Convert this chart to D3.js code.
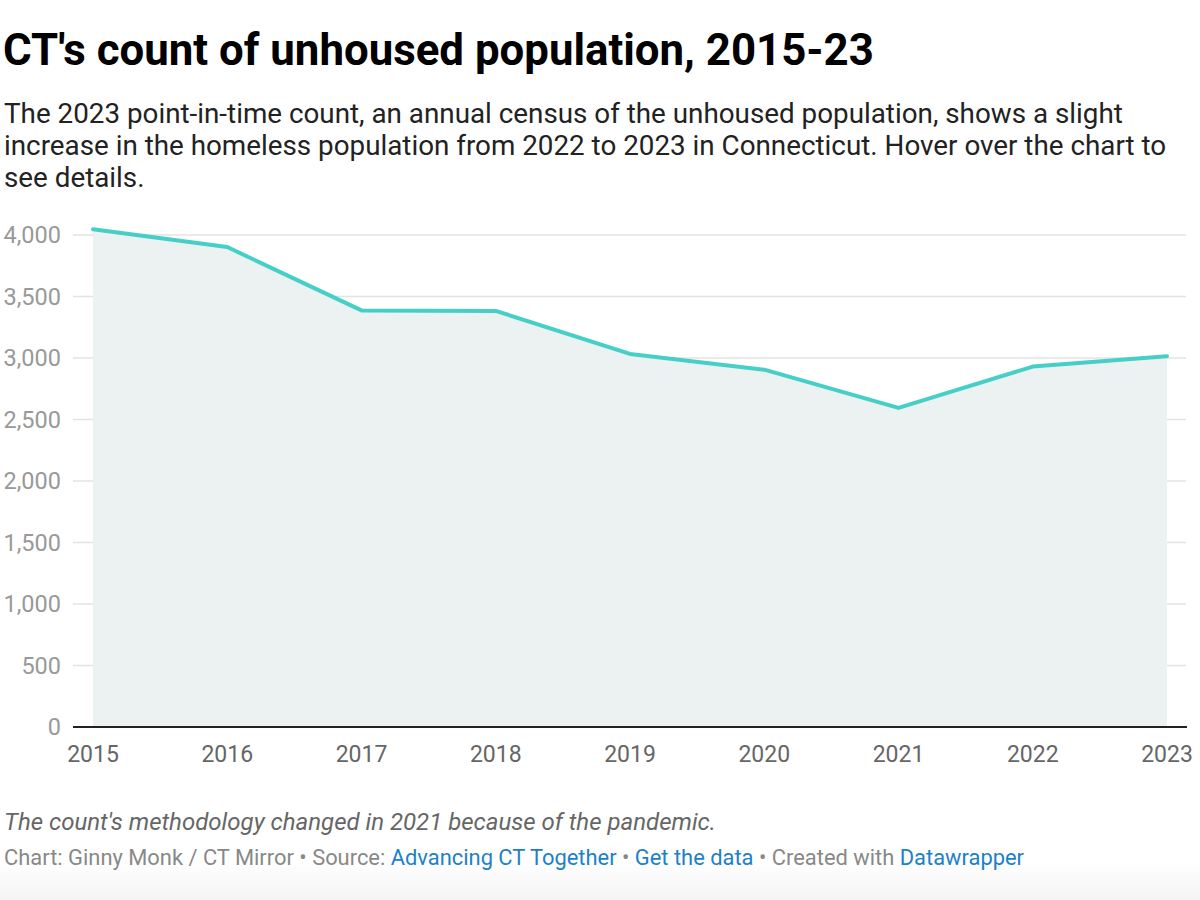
<!DOCTYPE html>
<html>
<head>
<meta charset="utf-8">
<script src="https://cdn.jsdelivr.net/npm/d3@7"></script>
<style>
  body { margin: 0; background: #fff; font-family: Roboto, "Noto Sans", sans-serif; }
  #chart { width: 1200px; height: 900px; background: linear-gradient(#fff 860px, #f4f4f4 900px); }
  .link { fill: #1d81c8; }
</style>
</head>
<body>
<div id="chart"></div>
<script>
// data
const years = [2015, 2016, 2017, 2018, 2019, 2020, 2021, 2022, 2023]
const counts = [4047, 3902, 3387, 3383, 3033, 2905, 2594, 2930, 3015]
const yTicks = [0, 500, 1000, 1500, 2000, 2500, 3000, 3500, 4000]

const title = "CT's count of unhoused population, 2015-23"
const subtitle = [
  'The 2023 point-in-time count, an annual census of the unhoused population, shows a slight',
  'increase in the homeless population from 2022 to 2023 in Connecticut. Hover over the chart to',
  'see details.'
]
const note = "The count's methodology changed in 2021 because of the pandemic."

const W = 1200, H = 900
const svg = d3.select('#chart').append('svg').attr('width', W).attr('height', H)

svg.append('text').attr('x', 3).attr('y', 65)
  .attr('font-size', 43.8).attr('font-weight', 700).attr('fill', '#000')
  .text(title)

svg.append('g').selectAll('text').data(subtitle).join('text')
  .attr('x', 4).attr('y', (d, i) => 123 + i * 32)
  .attr('font-size', 27.8).attr('fill', '#222')
  .text(d => d)

const x = d3.scalePoint().domain(years).range([93, 1167])
const y = d3.scaleLinear().domain([0, 4000]).range([727, 235])

// gridlines
svg.append('g').selectAll('line').data(yTicks.filter(d => d > 0)).join('line')
  .attr('x1', 73).attr('x2', 1186)
  .attr('y1', d => y(d)).attr('y2', d => y(d))
  .attr('stroke', '#e3e3e3').attr('stroke-width', 1.5)

svg.append('g').selectAll('text').data(yTicks).join('text')
  .attr('x', 61).attr('y', d => y(d) + 8)
  .attr('text-anchor', 'end').attr('font-size', 23.5).attr('fill', '#999')
  .text(d => d3.format(',')(d))

const area = d3.area().x((d, i) => x(years[i])).y0(y(0)).y1(d => y(d))
svg.append('path').datum(counts).attr('d', area).attr('fill', '#ecf2f2')

svg.append('line').attr('x1', 73).attr('x2', 1187)
  .attr('y1', y(0)).attr('y2', y(0)).attr('stroke', '#222').attr('stroke-width', 2)

const line = d3.line().x((d, i) => x(years[i])).y(d => y(d))
svg.append('path').datum(counts).attr('d', line)
  .attr('fill', 'none').attr('stroke', '#46cfc7').attr('stroke-width', 4)
  .attr('stroke-linejoin', 'round').attr('stroke-linecap', 'round')

svg.append('g').selectAll('text').data(years).join('text')
  .attr('x', d => x(d)).attr('y', 762)
  .attr('text-anchor', 'middle').attr('font-size', 23).attr('fill', '#666')
  .text(d => d)

svg.append('text').attr('x', 4).attr('y', 830)
  .attr('font-size', 24).attr('font-style', 'italic').attr('fill', '#666')
  .text(note)

const credits = svg.append('text').attr('x', 4).attr('y', 865).attr('font-size', 21.9).attr('fill', '#888')
credits.append('tspan').text('Chart: Ginny Monk / CT Mirror • Source: ')
credits.append('tspan').attr('class', 'link').text('Advancing CT Together')
credits.append('tspan').text(' • ')
credits.append('tspan').attr('class', 'link').text('Get the data')
credits.append('tspan').text(' • Created with ')
credits.append('tspan').attr('class', 'link').text('Datawrapper')
</script>
</body>
</html>
